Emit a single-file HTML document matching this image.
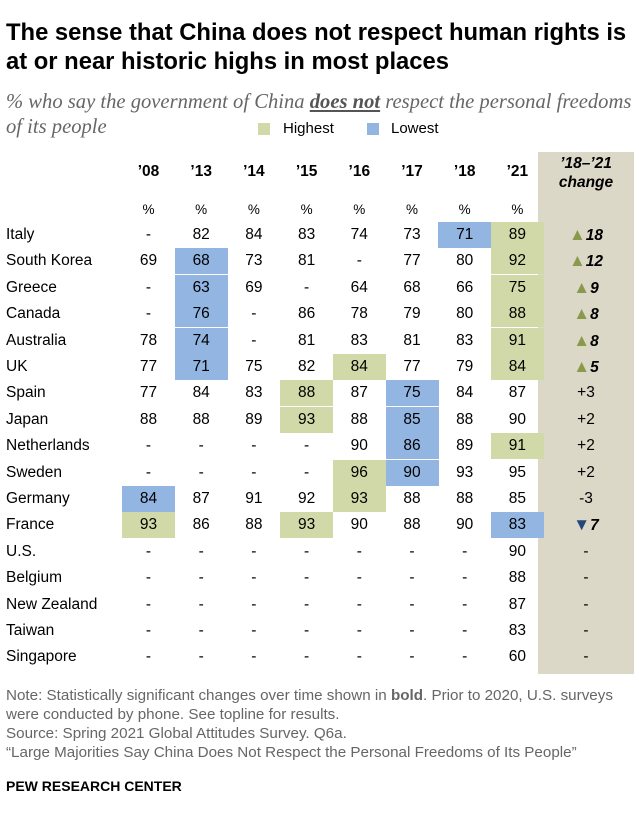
<!DOCTYPE html>
<html><head><meta charset="utf-8">
<style>
body{margin:0;width:639px;height:822px;background:#fff;font-family:"Liberation Sans",sans-serif;color:#000;position:relative;overflow:hidden}
.a{position:absolute;white-space:nowrap}
h1{position:absolute;left:6px;top:18px;margin:0;font-size:23.8px;line-height:29px;font-weight:bold;color:#000}
.sub{left:6px;top:90px;font-family:"Liberation Serif",serif;font-style:italic;font-size:20.6px;color:#666;line-height:25px}
.cell{position:absolute;width:53px;height:26px;line-height:26px;text-align:center;font-size:15.5px}
.hdr{position:absolute;width:53px;text-align:center;font-weight:bold;font-size:15.5px}
.note{left:6px;font-size:15.2px;color:#666}
</style></head><body>
<h1>The sense that China does not respect human rights is<br>at or near historic highs in most places</h1>
<div class="a sub">% who say the government of China <b style="text-decoration:underline;color:#555">does not</b> respect the personal freedoms<br>of its people</div>
<div class="a" style="left:258px;top:123px;width:12px;height:12px;background:#d2d9a8"></div>
<div class="a" style="left:283px;top:120px;font-size:15px">Highest</div>
<div class="a" style="left:367px;top:123px;width:12px;height:12px;background:#92b5e2"></div>
<div class="a" style="left:391px;top:120px;font-size:15px">Lowest</div>
<div class="a" style="left:538px;top:152px;width:96px;height:522px;background:#dcd8c8"></div>
<div class="a" style="left:538px;top:154px;width:96px;text-align:center;font-weight:bold;font-style:italic;font-size:15.5px;line-height:19px">’18–’21<br>change</div>
<div id="t"></div>
<div class="a note" style="top:686px;line-height:19px">Note: Statistically significant changes over time shown in <b>bold</b>. Prior to 2020, U.S. surveys<br>were conducted by phone. See topline for results.<br>Source: Spring 2021 Global Attitudes Survey. Q6a.<br>“Large Majorities Say China Does Not Respect the Personal Freedoms of Its People”</div>
<div class="a" style="left:6px;top:778px;font-size:14px;font-weight:bold">PEW RESEARCH CENTER</div>
<script>
const years=["’08","’13","’14","’15","’16","’17","’18","’21"];
const countries=["Italy","South Korea","Greece","Canada","Australia","UK","Spain","Japan","Netherlands","Sweden","Germany","France","U.S.","Belgium","New Zealand","Taiwan","Singapore"];
const values=[
["-",82,84,83,74,73,71,89],[69,68,73,81,"-",77,80,92],["-",63,69,"-",64,68,66,75],["-",76,"-",86,78,79,80,88],
[78,74,"-",81,83,81,83,91],[77,71,75,82,84,77,79,84],[77,84,83,88,87,75,84,87],[88,88,89,93,88,85,88,90],
["-","-","-","-",90,86,89,91],["-","-","-","-",96,90,93,95],[84,87,91,92,93,88,88,85],[93,86,88,93,90,88,90,83],
["-","-","-","-","-","-","-",90],["-","-","-","-","-","-","-",88],["-","-","-","-","-","-","-",87],["-","-","-","-","-","-","-",83],["-","-","-","-","-","-","-",60]];
const highlights=["......LH",".L.....H",".L.....H",".L.....H",".L.....H",".L..H..H","...H.L..","...H.L..",".....L.H","....HL..","L...H...","H..H...L","........","........","........","........","........"];
const changes=["▲18","▲12","▲9","▲8","▲8","▲5","+3","+2","+2","+2","-3","▼7","-","-","-","-","-"];
const t=document.getElementById('t');
const colX=i=>122+i*52.7, rowY=i=>222+i*26.4;
years.forEach((y,i)=>{
 const h=document.createElement('div');h.className='hdr';h.style.left=colX(i)+'px';h.style.top='163px';h.textContent=y;
 
 
 t.appendChild(h);
 const p=document.createElement('div');p.className='hdr';p.style.fontWeight='normal';p.style.fontSize='13.5px';p.style.left=colX(i)+'px';p.style.top='202px';p.textContent='%';
 
 
 t.appendChild(p);
});
countries.forEach((c,r)=>{
 const l=document.createElement('div');l.className='cell';l.style.width='auto';l.style.textAlign='left';l.style.left='6px';l.style.top=rowY(r)+'px';l.textContent=c;
 
 
 t.appendChild(l);
 values[r].forEach((v,i)=>{
  const d=document.createElement('div');d.className='cell';d.style.left=colX(i)+'px';d.style.top=rowY(r)+'px';d.textContent=v;
  const hl=highlights[r][i];
  if(hl==='H')d.style.background='#d2d9a8';if(hl==='L')d.style.background='#92b5e2';
  
  
  t.appendChild(d);
 });
 const ch=changes[r];const d=document.createElement('div');d.className='cell';d.style.left='538px';d.style.width='96px';d.style.top=rowY(r)+'px';
 if(ch[0]==='▲')d.innerHTML='<span style="color:#8a9a4c;font-size:17px">▲</span><b><i>'+ch.slice(1)+'</i></b>';
 else if(ch[0]==='▼')d.innerHTML='<span style="color:#23497a;font-size:17px">▼</span><b><i>'+ch.slice(1)+'</i></b>';
 else d.textContent=ch;
 
 
 t.appendChild(d);
});
</script>
</body></html>
